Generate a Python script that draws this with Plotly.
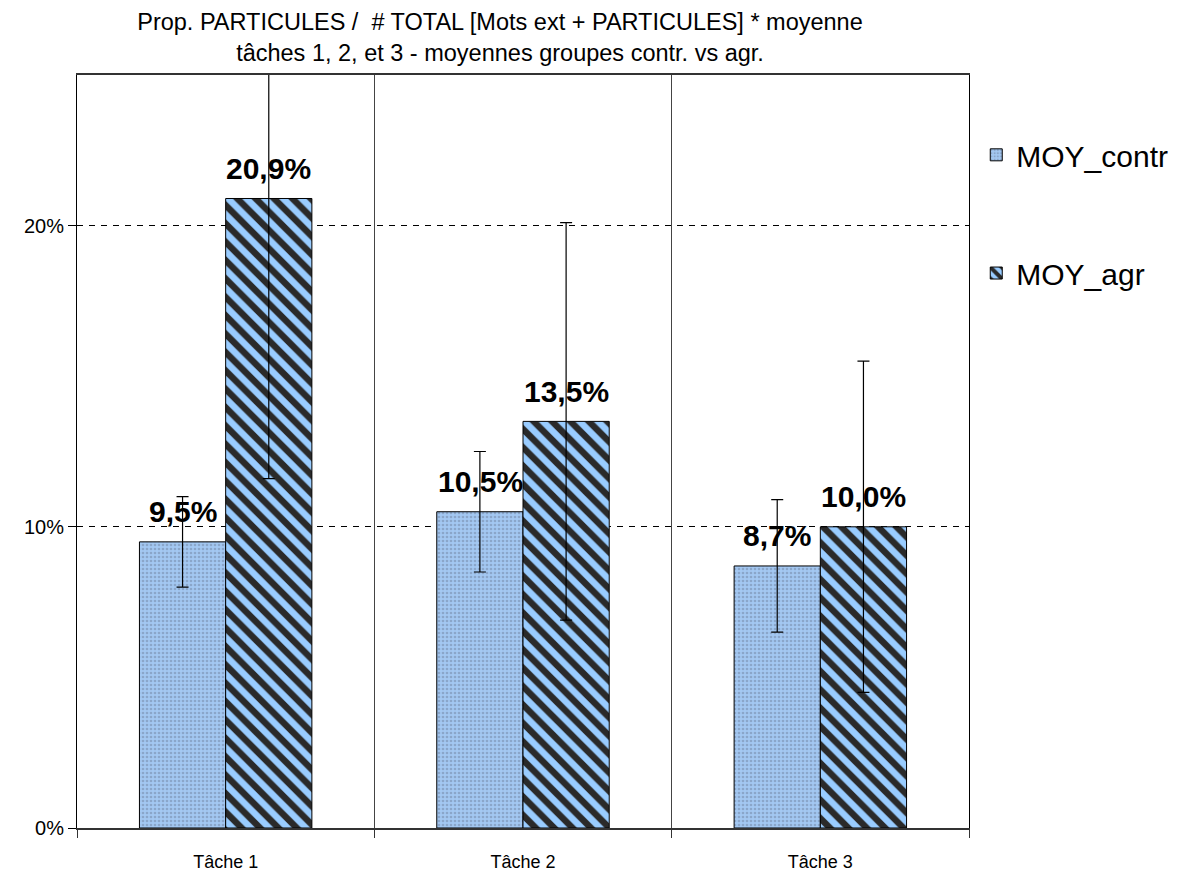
import plotly.graph_objects as go

categories = ["Tâche 1", "Tâche 2", "Tâche 3"]
moy_contr = [0.095, 0.105, 0.087]
moy_agr = [0.209, 0.135, 0.100]
err_contr = [0.015, 0.020, 0.022]
err_agr = [0.093, 0.066, 0.055]
series_names = ["MOY_contr", "MOY_agr"]
title_text = ("Prop. PARTICULES /  # TOTAL [Mots ext + PARTICULES] * moyenne<br>"
              "tâches 1, 2, et 3 - moyennes groupes contr. vs agr.")

FONT = "Liberation Sans, Arial, sans-serif"
W, H = 1176, 871  # page body has an 8px margin

fig = go.Figure()
fig.add_trace(go.Bar(
    x=categories, y=moy_contr, name=series_names[0], legend="legend",
    marker=dict(color="#A3C8F2", line=dict(color="black", width=1),
                pattern=dict(shape=".", bgcolor="#A3C8F2", fgcolor="#8AA6CA",
                             fgopacity=1, size=4, solidity=0.35, fillmode="overlay")),
    error_y=dict(type="data", array=err_contr, color="black", thickness=1.2, width=6),
))
fig.add_trace(go.Bar(
    x=categories, y=moy_agr, name=series_names[1], legend="legend2",
    marker=dict(color="#99CCFF", line=dict(color="black", width=1),
                pattern=dict(shape="\\", bgcolor="#99CCFF", fgcolor="#2A2A2A",
                             fgopacity=1, size=13, solidity=0.5, fillmode="overlay")),
    error_y=dict(type="data", array=err_agr, color="black", thickness=1.2, width=6),
))

annotations = []
for vals, shift in ((moy_contr, -43), (moy_agr, 43)):
    for c, v in zip(categories, vals):
        annotations.append(dict(
            x=c, y=v, xref="x", yref="y", text=f"{v*100:.1f}%".replace(".", ","),
            showarrow=False, xshift=shift, yshift=30, yanchor="middle",
            font=dict(family=FONT, size=30, color="black", weight="bold"),
        ))

fig.update_layout(
    width=W, height=H,
    margin=dict(l=69, r=214, t=67, b=51),
    paper_bgcolor="white", plot_bgcolor="white",
    separators=", ",
    barmode="group", bargap=0.42, bargroupgap=0,
    showlegend=True,
    font=dict(family=FONT, color="black"),
    title=dict(text=title_text, x=492/W, xanchor="center", xref="container",
               y=1 - 22/H, yanchor="top", yref="container",
               font=dict(family=FONT, size=23.5, color="black")),
    annotations=annotations,
    legend=dict(x=1.007, y=0.894, xanchor="left", yanchor="middle",
                font=dict(family=FONT, size=30, color="black"), bgcolor="rgba(0,0,0,0)"),
    legend2=dict(x=1.007, y=0.737, xanchor="left", yanchor="middle",
                 font=dict(family=FONT, size=30, color="black"), bgcolor="rgba(0,0,0,0)"),
    xaxis=dict(tickson="boundaries", ticks="outside", ticklen=8, tickcolor="#333",
               showgrid=True, gridcolor="#444", gridwidth=1,
               showline=True, linecolor="#333", linewidth=2, mirror=True,
               ticklabelstandoff=16, automargin=False,
               tickfont=dict(family=FONT, size=18, color="black")),
    yaxis=dict(range=[0, 0.25], dtick=0.1, tickformat=".0%",
               ticks="outside", ticklen=8, tickcolor="black",
               showgrid=True, gridcolor="black", gridwidth=1, griddash="6px,6px",
               showline=True, linecolor="black", linewidth=1, mirror=True,
               zeroline=False, automargin=False,
               tickfont=dict(family=FONT, size=20, color="black")),
)

fig.write_html("out.html")
